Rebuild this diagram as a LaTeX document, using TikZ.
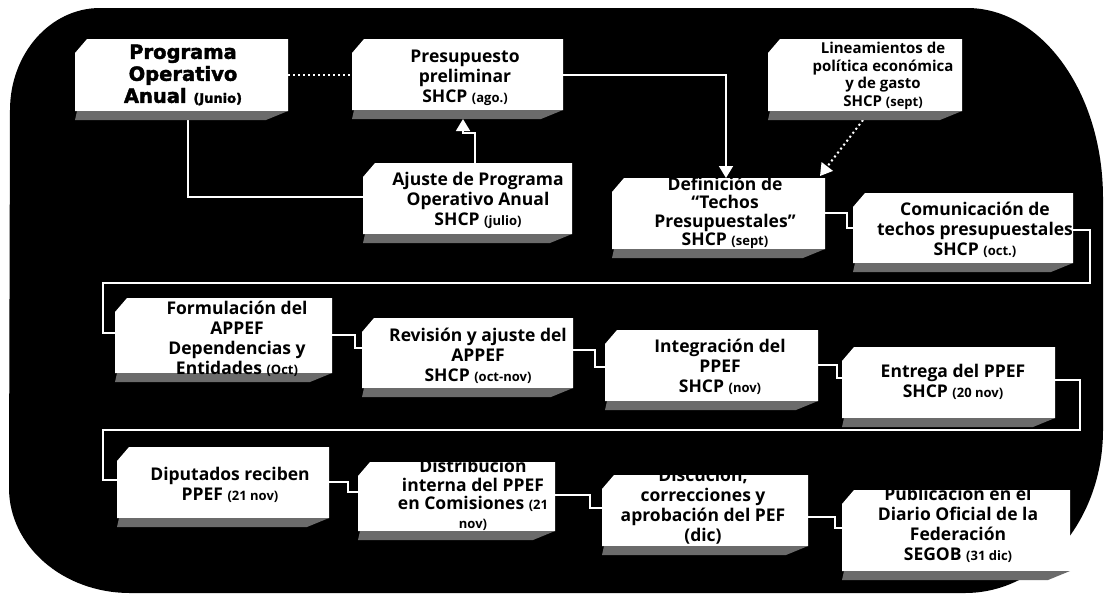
\documentclass[tikz,border=0pt]{standalone}
\usepackage{fontspec}
\setmainfont{Open Sans}
\newfontfamily\heavyfont{DejaVu Sans}[BoldFeatures={FakeBold=2}]
\usetikzlibrary{arrows.meta,calc}
\pgfdeclarelayer{back}
\pgfdeclarelayer{lines}
\pgfsetlayers{back,lines,main}
\definecolor{stripcol}{gray}{0.42}
\newcommand\pz[1]{{\fontsize{13}{12}\selectfont #1}}
\newcommand\mkbox[9]{%
  \node[box3d, minimum width={#4-#2}, minimum height={#5-#3}] (#1) at ({(#2+#4)/2},{(#3+#5)/2}) {};
  \node[boxtext,#8] (#1t) at ([xshift=#6pt,yshift=#7pt]#1.center) {#9};
}
\tikzset{
  box3d/.style={rectangle, inner sep=0pt, outer sep=0pt,
    path picture={
      \fill[white] ([xshift=12pt]path picture bounding box.north west)
        -- (path picture bounding box.north east)
        -- ([yshift=9pt]path picture bounding box.south east)
        -- ([yshift=9pt]path picture bounding box.south west)
        -- ([yshift=-14pt]path picture bounding box.north west) -- cycle;
      \fill[stripcol] ([yshift=9pt,xshift=2pt]path picture bounding box.south west)
        -- ([yshift=9pt]path picture bounding box.south east)
        -- ([xshift=-22pt]path picture bounding box.south east)
        -- (path picture bounding box.south west) -- cycle;
    }},
  boxtext/.style={align=center, inner sep=0pt, text=black,
    font=\bfseries\fontsize{17.5}{20}\selectfont},
  conn/.style={draw=white, line width=1.6pt},
  dotline/.style={draw=white, line width=2pt, dash pattern=on 2pt off 3pt},
  arrowtip/.style={-{Triangle[width=14pt,length=12pt,fill=white]}}
}
\begin{document}
\begin{tikzpicture}[x=1pt,y=-1pt]
\useasboundingbox (0,0) rectangle (1106,595);
\begin{pgfonlayer}{back}
\fill[white] (0,0) rectangle (1106,595);
\fill[black] (100,8) -- (967,8)
  .. controls (1042,8) and (1103,93) .. (1103,198)
  -- (1103,430)
  .. controls (1103,520) and (1041,593) .. (965,593)
  -- (130,593)
  .. controls (63,593) and (9,546) .. (9,488)
  -- (10,110)
  .. controls (10,54) and (50,8) .. (100,8) -- cycle;
\end{pgfonlayer}

\mkbox{b1}{75}{39}{288}{120}{1.5}{4.5}{font=\heavyfont\bfseries\fontsize{19.5}{22}\selectfont}{Programa\\Operativo\\Anual \pz{(Junio)}}
\mkbox{b2}{352}{39}{563}{119}{7.5}{1}{}{Presupuesto\\preliminar\\SHCP \pz{(ago.)}}
\mkbox{b3}{768}{39}{962}{120}{18}{3.5}{font=\bfseries\fontsize{15}{17.5}\selectfont}{Lineamientos de\\política económica\\y de gasto\\SHCP \pz{(sept)}}
\mkbox{b4}{363}{163}{572}{243}{10.5}{3}{}{Ajuste de Programa\\Operativo Anual\\SHCP \pz{(julio)}}
\mkbox{b5}{612}{178}{825}{258}{6.5}{5}{font=\bfseries\fontsize{17.5}{18.5}\selectfont}{Definición de\\“Techos\\Presupuestales”\\SHCP \pz{(sept)}}
\mkbox{b6}{853}{193}{1073}{272}{12}{2.5}{}{Comunicación de\\techos presupuestales\\SHCP \pz{(oct.)}}
\mkbox{b7}{115}{298}{332}{382}{13.5}{1}{}{Formulación del\\APPEF\\Dependencias y\\Entidades \pz{(Oct)}}
\mkbox{b8}{362}{318}{573}{397}{10.5}{1.5}{}{Revisión y ajuste del\\APPEF\\SHCP \pz{(oct-nov)}}
\mkbox{b9}{605}{330}{818}{410}{8.5}{3}{}{Integración del\\PPEF\\SHCP \pz{(nov)}}
\mkbox{b10}{842}{347}{1055}{427}{4.5}{5}{}{Entrega del PPEF\\SHCP \pz{(20 nov)}}
\mkbox{b11}{117}{447}{329}{527}{7}{2}{}{Diputados reciben\\PPEF \pz{(21 nov)}}
\mkbox{b12}{358}{462}{555}{540}{16.5}{6}{font=\bfseries\fontsize{17.5}{18.5}\selectfont}{Distribución\\interna del PPEF\\en Comisiones \pz{(21}\\\pz{nov)}}
\mkbox{b13}{602}{475}{808}{555}{-2}{9}{}{Discución,\\correcciones y\\aprobación del PEF\\(dic)}
\mkbox{b14}{842}{490}{1070}{580}{2}{10}{}{Publicación en el\\Diario Oficial de la\\Federación\\SEGOB \pz{(31 dic)}}

\coordinate (r1) at (1090,283);
\coordinate (l1) at (103,283);
\coordinate (r2) at (1080,430);
\coordinate (l2) at (103,430);

\begin{pgfonlayer}{lines}
\draw[dotline] ([yshift=4.5pt]b1.east) -- ([yshift=4pt]b2.west);
\draw[conn] ([xshift=6.5pt]b1.south) |- ([yshift=6pt]b4.west);
\draw[conn,arrowtip] ([xshift=7.5pt]b4.north) -- ++(0,-30) -| ([xshift=5.5pt]b2.south);
\draw[conn,arrowtip] ([yshift=4pt]b2.east) -| ([xshift=7.5pt]b5.north);
\draw[dotline,arrowtip] ([xshift=-2pt]b3.south) -- ([xshift=-5pt,yshift=2pt]b5.north east);
\draw[conn] ([yshift=5pt]b5.east) -- ++(22,0) |- ([yshift=4.5pt]b6.west);
\draw[conn] ([yshift=2.5pt]b6.east) -| (r1) -- (l1) |- ([yshift=7pt]b7.west);
\draw[conn] ([yshift=5pt]b7.east) -- ++(23,0) |- ([yshift=9.5pt]b8.west);
\draw[conn] ([yshift=7.5pt]b8.east) -- ++(22,0) |- ([yshift=3pt]b9.west);
\draw[conn] ([yshift=5pt]b9.east) -- ++(19,0) |- ([yshift=9pt]b10.west);
\draw[conn] ([yshift=7pt]b10.east) -| (r2) -- (l2) |- ([yshift=7pt]b11.west);
\draw[conn] ([yshift=5pt]b11.east) -- ++(19,0) |- ([yshift=9pt]b12.west);
\draw[conn] ([yshift=6pt]b12.east) -- ++(35,0) |- ([yshift=7pt]b13.west);
\draw[conn] ([yshift=-2pt]b13.east) -- ++(27,0) |- ([yshift=7pt]b14.west);
\end{pgfonlayer}
\end{tikzpicture}
\end{document}
